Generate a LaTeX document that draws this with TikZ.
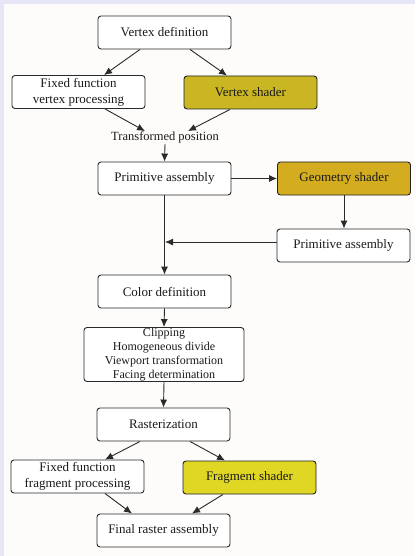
\documentclass[tikz,border=0pt]{standalone}
\usepackage{fontspec}
\setmainfont{Liberation Serif}
\usetikzlibrary{arrows.meta,calc}
\definecolor{vsfill}{HTML}{C9B622}
\definecolor{gsfill}{HTML}{D3AC1F}
\definecolor{fsfill}{HTML}{E0D624}
\definecolor{edge}{HTML}{2A2A2A}
\definecolor{ink}{HTML}{1A1A1A}
\definecolor{paper}{HTML}{FDFCFA}
\definecolor{rim}{HTML}{E6E6F6}
\begin{document}
\begin{tikzpicture}[x=1pt,y=-1pt,
  stage/.style={draw=edge,line width=0.9pt,rounded corners=3pt,fill=white,
    minimum width=133pt,minimum height=33pt,inner sep=1pt,align=center,
    text=ink,font=\fontsize{13}{16}\selectfont},
  shader/.style={stage,draw=edge!80!black},
  flow/.style={-{Latex[length=8pt,width=7pt]},draw=edge,line width=0.9pt}]
% paper and frame
\fill[rim] (0,0) rectangle (415,556);
\fill[paper] (4,4) rectangle (415,556);
\useasboundingbox (0,0) rectangle (415,556);

% vertex stage
\node[stage] (vdef) at (164.5,32.5) {Vertex definition};
\node[stage] (ffv) at (78.5,92) {Fixed function\\vertex processing};
\node[shader,fill=vsfill] (vsh) at (250.5,92.5) {Vertex shader};
\node[font=\fontsize{12.5}{13}\selectfont,text=ink,inner sep=1pt] (tpos) at (165,137) {Transformed position};

% primitive / geometry stage
\node[stage] (pa) at (164.5,178.5) {Primitive assembly};
\node[shader,fill=gsfill] (gsh) at (344,178.5) {Geometry shader};
\node[stage] (pa2) at (343.5,245.5) {Primitive assembly};
\coordinate (join) at (165,242);

% rasterisation stage
\node[stage,minimum width=160pt,minimum height=54pt,inner sep=0pt,
  font=\fontsize{12}{14}\selectfont] (clip) at (164,354.5)
  {Clipping\\Homogeneous divide\\Viewport transformation\\Facing determination};
\node[stage] (cdef) at (164.5,291.5) {Color definition};
\node[stage] (rast) at (163.5,424.5) {Rasterization};
\node[stage] (fff) at (77.5,476.5) {Fixed function\\fragment processing};
\node[shader,fill=fsfill] (fsh) at (249.5,477.5) {Fragment shader};
\node[stage] (fra) at (163.5,530.5) {Final raster assembly};

% connectors
\draw[flow] ($(vdef.south)+(-24.5,0)$) -- ($(ffv.north)+(25.5,0)$);
\draw[flow] ($(vdef.south)+(25.5,0)$) -- ($(vsh.north)+(-23.5,0)$);
\draw[flow] ($(ffv.south)+(26.5,0)$) -- ($(tpos.north)+(-20,1)$);
\draw[flow] ($(vsh.south)+(-20.5,0)$) -- ($(tpos.north)+(23,1)$);
\draw[flow] (tpos.south) -- (pa.north);
\draw[flow] (pa.east) -- (gsh.west);
\draw[flow] (gsh.south) -- (gsh.south |- pa2.north);
\draw[flow] ($(pa2.west)+(0,-3.5)$) -- (join);
\draw[flow] (pa.south) -- (cdef.north);
\draw[flow] (cdef.south) -- (clip.north);
\draw[flow] (clip.south) -- (rast.north);
\draw[flow] ($(rast.south)+(-23.5,0)$) -- ($(fff.north)+(27.5,0)$);
\draw[flow] ($(rast.south)+(26.5,0)$) -- ($(fsh.north)+(-24.5,0)$);
\draw[flow] ($(fff.south)+(27.5,0)$) -- ($(fra.north)+(-31.5,0)$);
\draw[flow] ($(fsh.south)+(-26.5,0)$) -- ($(fra.north)+(28.5,0)$);
\end{tikzpicture}
\end{document}
